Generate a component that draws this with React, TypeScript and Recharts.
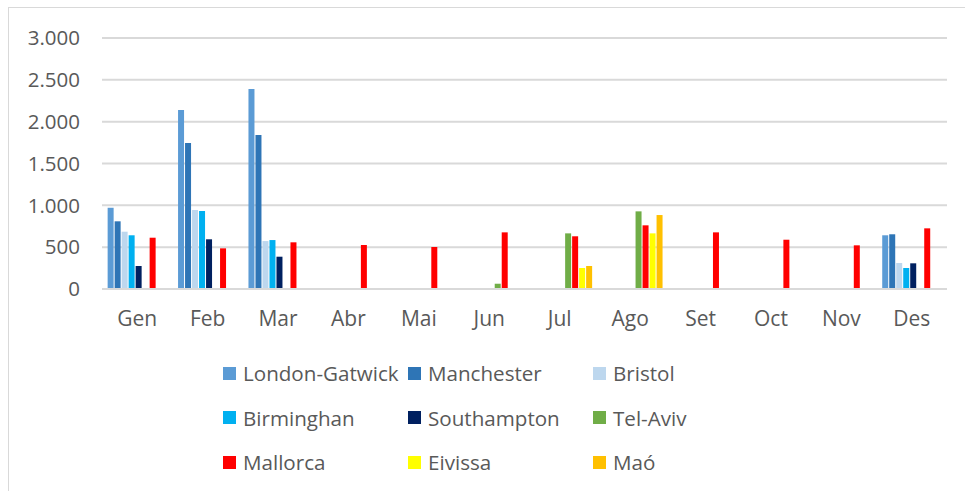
import { BarChart, Bar, XAxis, YAxis, CartesianGrid, Legend } from 'recharts';

const months = ['Gen', 'Feb', 'Mar', 'Abr', 'Mai', 'Jun', 'Jul', 'Ago', 'Set', 'Oct', 'Nov', 'Des'];

const londonGatwick = [971, 2139, 2389, null, null, null, null, null, null, null, null, 642];
const manchester = [809, 1744, 1840, null, null, null, null, null, null, null, null, 654];
const bristol = [685, 944, 573, null, null, null, null, null, null, null, null, 311];
const birminghan = [642, 932, 585, null, null, null, null, null, null, null, null, 251];
const southampton = [275, 594, 386, null, null, null, null, null, null, null, null, 307];
const telAviv = [null, null, null, null, null, 63, 665, 928, null, null, null, null];
const mallorca = [613, 486, 558, 526, 502, 677, 630, 761, 677, 589, 522, 725];
const eivissa = [null, null, null, null, null, null, 251, 665, null, null, null, null];
const mao = [null, null, null, null, null, null, 275, 884, null, null, null, null];

const yTicks = [0, 500, 1000, 1500, 2000, 2500, 3000];

const series = [
	{ key: 'lg', name: 'London-Gatwick', color: '#5b9bd5', values: londonGatwick },
	{ key: 'man', name: 'Manchester', color: '#2e75b6', values: manchester },
	{ key: 'bri', name: 'Bristol', color: '#bdd7ee', values: bristol },
	{ key: 'bir', name: 'Birminghan', color: '#00b0f0', values: birminghan },
	{ key: 'sou', name: 'Southampton', color: '#002060', values: southampton },
	{ key: 'tel', name: 'Tel-Aviv', color: '#70ad47', values: telAviv },
	{ key: 'mal', name: 'Mallorca', color: '#ff0000', values: mallorca },
	{ key: 'eiv', name: 'Eivissa', color: '#ffff00', values: eivissa },
	{ key: 'mao', name: 'Maó', color: '#ffc000', values: mao },
];

const data = months.map((m, i) => {
	const row: any = { month: m };
	series.forEach((s) => {
		row[s.key] = s.values[i];
	});
	return row;
});

const fmt = (v: number) => String(v).replace(/\B(?=(\d{3})+(?!\d))/g, '.');

const FONT = '"Open Sans", sans-serif';
const TEXT = '#595959';

function LegendGrid() {
	return (
		<div style={{ position: 'relative', height: 165 }}>
			{series.map((s, i) => {
				const col = i % 3;
				const row = Math.floor(i / 3);
				return (
					<div
						key={s.key}
						style={{
							position: 'absolute',
							left: 223 + col * 185,
							top: 52 + row * 44.5 - 13,
							height: 26,
							display: 'flex',
							alignItems: 'center',
							fontFamily: FONT,
							fontSize: 20.6,
							color: TEXT,
							whiteSpace: 'nowrap',
						}}
					>
						<span style={{ width: 13, height: 13, background: s.color, marginRight: 7, display: 'inline-block' }} />
						{s.name}
					</div>
				);
			})}
		</div>
	);
}

export default function App() {
	return (
		<div style={{ position: 'absolute', left: 0, top: 0, width: 965, height: 491, background: '#fff', overflow: 'hidden' }}>
			<div
				style={{
					position: 'absolute',
					left: 8,
					top: 7,
					width: 1000,
					height: 600,
					border: '1px solid #d9d9d9',
				}}
			/>
			<BarChart
				width={965}
				height={491}
				data={data}
				margin={{ top: 38, right: 18, left: 0, bottom: 5 }}
				barCategoryGap="8%"
				barGap={1}
				style={{ position: 'absolute', left: 0, top: 0 }}
			>
				<CartesianGrid vertical={false} stroke="#d9d9d9" strokeWidth={2} />
				<XAxis
					dataKey="month"
					height={32}
					tickLine={false}
					axisLine={{ stroke: '#d9d9d9', strokeWidth: 2 }}
					tickMargin={16}
					tick={{ fill: TEXT, fontSize: 21, fontFamily: FONT }}
				/>
				<YAxis
					width={102}
					domain={[0, 3000]}
					ticks={yTicks}
					tickFormatter={fmt}
					tickLine={false}
					axisLine={false}
					tickMargin={16}
					tick={{ fill: TEXT, fontSize: 20.5, fontFamily: FONT }}
				/>
				{series.map((s) => (
					<Bar key={s.key} dataKey={s.key} name={s.name} fill={s.color} isAnimationActive={false} />
				))}
				<Legend verticalAlign="bottom" height={165} content={() => <LegendGrid />} />
			</BarChart>
		</div>
	);
}
